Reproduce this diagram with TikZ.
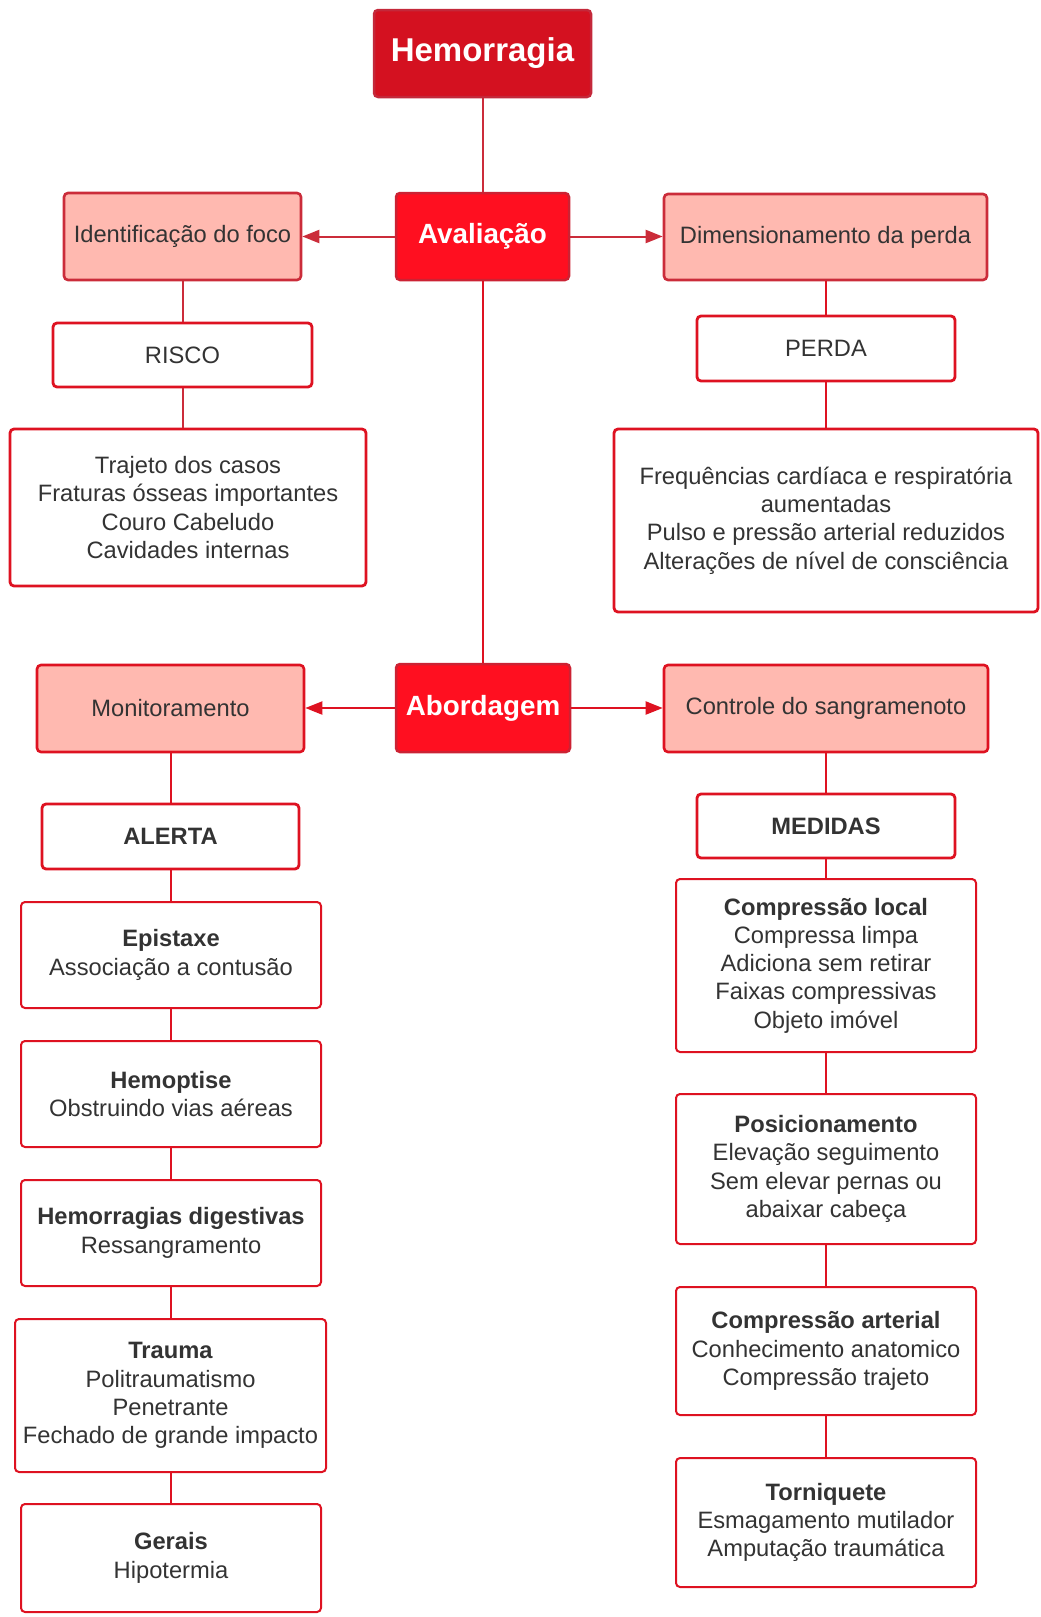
\documentclass[tikz,border=0pt]{standalone}
\usepackage{fontspec}
\setmainfont{Liberation Sans}
\usetikzlibrary{arrows.meta}

\definecolor{ink}{HTML}{333333}
\definecolor{darkred}{HTML}{D41120}
\definecolor{darkredline}{HTML}{C4283A}
\definecolor{brightred}{HTML}{FF0F20}
\definecolor{brightredline}{HTML}{CC2233}
\definecolor{salmon}{HTML}{FFB9B0}
\definecolor{mutedline}{HTML}{CB2C3A}
\definecolor{vividline}{HTML}{DE1221}

\begin{document}
\begin{tikzpicture}[x=1pt,y=-1pt,
  wh/.style 2 args={minimum width=#1pt,minimum height=#2pt},
  base/.style={rectangle,rounded corners=4pt,inner sep=0pt,align=center,
    text=ink,font=\fontsize{23.7}{28.3}\selectfont},
  titlebox/.style={base,fill=darkred,draw=darkredline,line width=2.5pt,text=white,
    font=\fontsize{33}{38}\selectfont\bfseries},
  phasebox/.style={base,fill=brightred,draw=brightredline,line width=2.5pt,text=white,
    font=\fontsize{27.8}{32}\selectfont\bfseries},
  pinkbox/.style={base,fill=salmon,draw=#1,line width=2.6pt},
  headbox/.style={base,fill=white,draw=vividline,line width=2.8pt},
  itembox/.style={base,fill=white,draw=vividline,line width=2pt},
  link/.style={draw=#1,line width=2pt},
  arrowlink/.style={link=#1,-{Triangle[length=17pt,width=13pt]}}
]
\useasboundingbox (0,0) rectangle (1041,1617);

% central spine
\node[titlebox,wh={217}{87}] (hemo) at (482.5,53.5) {Hemorragia};
\node[phasebox,wh={173}{87}] (aval) at (482.5,236.5) {Avaliação};
\node[phasebox,wh={174}{88}] (abord) at (483,708) {Abordagem};

% assessment branch
\node[pinkbox=mutedline,wh={237}{87}] (ident) at (182.5,236.5) {Identificação do foco};
\node[pinkbox=mutedline,wh={323}{86}] (dimen) at (825.5,237) {Dimensionamento da perda};
\node[headbox,wh={259}{64}] (risco) at (182.5,355) {RISCO};
\node[headbox,wh={356}{157}] (riskl) at (188,507.5)
  {Trajeto dos casos\\Fraturas ósseas importantes\\Couro Cabeludo\\Cavidades internas};
\node[headbox,wh={258}{65}] (perda) at (826,348.5) {PERDA};
\node[headbox,wh={424}{183}] (perdal) at (826,520.5)
  {Frequências cardíaca e respiratória\\aumentadas\\Pulso e pressão arterial reduzidos\\Alterações de nível de consciência};

% approach branch
\node[pinkbox=vividline,wh={267}{87}] (monit) at (170.5,708.5) {Monitoramento};
\node[pinkbox=vividline,wh={324}{87}] (contr) at (826,708.5) {Controle do sangramenoto};
\node[headbox,wh={257}{65}] (alerta) at (170.5,836.5) {\textbf{ALERTA}};
\node[headbox,wh={258}{64}] (medidas) at (826,826) {\textbf{MEDIDAS}};

% warning signs
\node[itembox,wh={300}{106}] (epist) at (171,955) {\textbf{Epistaxe}\\Associação a contusão};
\node[itembox,wh={300}{106}] (hemop) at (171,1094) {\textbf{Hemoptise}\\Obstruindo vias aéreas};
\node[itembox,wh={300}{106}] (hdig) at (171,1233) {\textbf{Hemorragias digestivas}\\Ressangramento};
\node[itembox,wh={311}{153}] (trauma) at (170.5,1395.5)
  {\textbf{Trauma}\\Politraumatismo\\Penetrante\\Fechado de grande impacto};
\node[itembox,wh={300}{108}] (gerais) at (171,1558) {\textbf{Gerais}\\Hipotermia};

% bleeding control measures
\node[itembox,wh={300}{173}] (cloc) at (826,965.5)
  {\textbf{Compressão local}\\Compressa limpa\\Adiciona sem retirar\\Faixas compressivas\\Objeto imóvel};
\node[itembox,wh={300}{150}] (posic) at (826,1169)
  {\textbf{Posicionamento}\\Elevação seguimento\\Sem elevar pernas ou\\abaixar cabeça};
\node[itembox,wh={300}{128}] (carte) at (826,1351)
  {\textbf{Compressão arterial}\\Conhecimento anatomico\\Compressão trajeto};
\node[itembox,wh={300}{129}] (torn) at (826,1522.5)
  {\textbf{Torniquete}\\Esmagamento mutilador\\Amputação traumática};

% connectors
\draw[link=mutedline] (hemo.south) -- (aval.north);
\draw[link=vividline] (aval.south) -- (aval.south |- abord.north);
\draw[arrowlink=mutedline] (aval.west) -- (ident.east |- aval.west);
\draw[arrowlink=mutedline] (aval.east) -- (dimen.west |- aval.east);
\draw[arrowlink=vividline] (abord.west) -- (monit.east |- abord.west);
\draw[arrowlink=vividline] (abord.east) -- (contr.west |- abord.east);

\draw[link=mutedline] (ident.south) -- (ident.south |- risco.north);
\draw[link=mutedline] (risco.south) -- (risco.south |- riskl.north);
\draw[link=vividline] (dimen.south) -- (dimen.south |- perda.north);
\draw[link=vividline] (perda.south) -- (perda.south |- perdal.north);

\draw[link=vividline] (monit.south) -- (monit.south |- alerta.north);
\draw[link=vividline] (alerta.south) -- (alerta.south |- epist.north);
\draw[link=vividline] (epist.south) -- (epist.south |- hemop.north);
\draw[link=vividline] (hemop.south) -- (hemop.south |- hdig.north);
\draw[link=vividline] (hdig.south) -- (hdig.south |- trauma.north);
\draw[link=vividline] (trauma.south) -- (trauma.south |- gerais.north);

\draw[link=vividline] (contr.south) -- (contr.south |- medidas.north);
\draw[link=vividline] (medidas.south) -- (medidas.south |- cloc.north);
\draw[link=vividline] (cloc.south) -- (cloc.south |- posic.north);
\draw[link=vividline] (posic.south) -- (posic.south |- carte.north);
\draw[link=vividline] (carte.south) -- (carte.south |- torn.north);
\end{tikzpicture}
\end{document}
